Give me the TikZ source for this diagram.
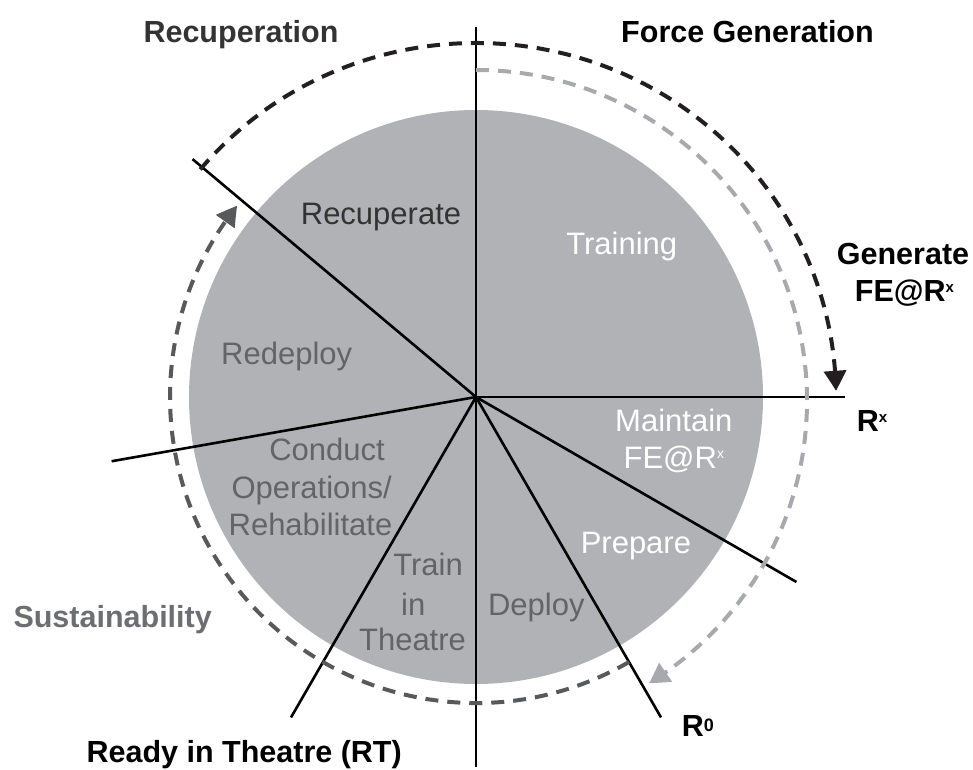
\documentclass[tikz,border=0pt]{standalone}
\usepackage{fontspec}
\setmainfont{Liberation Sans}
\usetikzlibrary{arrows.meta,bending,calc}
\definecolor{discgray}{RGB}{177,178,181}
\definecolor{arcdark}{RGB}{35,31,32}
\definecolor{arcmid}{RGB}{88,89,91}
\definecolor{arclight}{RGB}{167,169,172}
\definecolor{txtdark}{RGB}{51,51,51}
\definecolor{txtin}{RGB}{99,100,102}
\definecolor{txtsus}{RGB}{109,110,113}
\newcommand{\supr}[3]{\raisebox{#1pt}{\fontsize{#2pt}{#2pt}\selectfont #3}}
\begin{document}
\begin{tikzpicture}[x=1pt,y=1pt,
  radial/.style={line width=2.6pt,black},
  dasharc/.style={line width=4pt,dash pattern=on 13pt off 9pt,
     -{Triangle[length=20pt,width=22pt,bend]}},
  boldlbl/.style={inner sep=0pt,font=\fontsize{30.5pt}{36pt}\selectfont\bfseries},
  seglbl/.style={inner sep=0pt,font=\fontsize{31pt}{37pt}\selectfont}]
\useasboundingbox (0,0) rectangle (973,769);
\coordinate (C) at (476,372);
\coordinate (CL) at (476,368);
\fill[discgray] (C) circle[radius=287];
% radial lines
\coordinate (eN) at (476,742);
\coordinate (eS) at (476,2);
\coordinate (eE) at (845,372);
\coordinate (e140) at ([shift={(C)}]140:370);
\coordinate (e190) at ([shift={(C)}]190:370);
\coordinate (e240) at ([shift={(C)}]240:370);
\coordinate (e300) at ([shift={(C)}]300:370);
\coordinate (e330) at ([shift={(C)}]330:370);
\foreach \e in {eN,eS,eE,e140,e190,e240,e300,e330}
  \draw[radial] (C) -- (\e);
% dashed arcs
\coordinate (aD) at ([shift={(C)}]140:360 and 354);
\coordinate (aL) at ([shift={(CL)}]90:331);
\coordinate (aM) at ([shift={(C)}]-60:306);
\draw[dasharc,arcdark] (aD) arc[start angle=140,end angle=1,x radius=360,y radius=354];
\draw[dasharc,arclight] (aL) arc[start angle=90,end angle=-58.5,radius=331];
\draw[dasharc,arcmid] (aM) arc[start angle=-60,end angle=-218.7,radius=306];
% outer labels
\node[boldlbl,txtdark,anchor=base] (recup) at (241,726.5) {Recuperation};
\node[boldlbl,anchor=base] (forcegen) at (747.5,726.5) {Force Generation};
\node[boldlbl,anchor=base] (gen1) at (903,504) {Generate};
\node[boldlbl,anchor=base] (gen2) at (904.5,467.3) {FE@R\supr{9}{15}{x}};
\node[boldlbl,anchor=base west] (rx) at (856.7,337.3) {R\supr{9}{15}{x}};
\node[boldlbl,anchor=base west] (r0) at (681.7,32.3) {R\supr{5}{18}{0}};
\node[boldlbl,anchor=base east] (rt) at (402,7) {Ready in Theatre (RT)};
\node[boldlbl,txtsus,anchor=base east] (sus) at (212,142) {Sustainability};
% segment labels
\node[seglbl,txtdark,anchor=base] (recupseg) at (381,544) {Recuperate};
\node[seglbl,white,anchor=base] (train) at (621.7,514) {Training};
\node[seglbl,txtin,anchor=base] (redep) at (286.7,404) {Redeploy};
\node[seglbl,txtin,anchor=base east] (cond1) at (385,308.3) {Conduct};
\node[seglbl,txtin,anchor=base] (cond2) at (311.7,270.7) {Operations/};
\node[seglbl,txtin,anchor=base] (cond3) at (310.5,234) {Rehabilitate};
\node[seglbl,txtin,anchor=base] (tit1) at (428,194) {Train};
\node[seglbl,txtin,anchor=base] (tit2) at (413.3,154) {in};
\node[seglbl,txtin,anchor=base] (tit3) at (412.5,119) {Theatre};
\node[seglbl,txtin,anchor=base] (deploy) at (536.3,154) {Deploy};
\node[seglbl,white,anchor=base] (maint1) at (673.8,337.3) {Maintain};
\node[seglbl,white,anchor=base] (maint2) at (673.8,300.7) {FE@R\supr{10}{14}{x}};
\node[seglbl,white,anchor=base] (prep) at (635.9,215.7) {Prepare};
\end{tikzpicture}
\end{document}
